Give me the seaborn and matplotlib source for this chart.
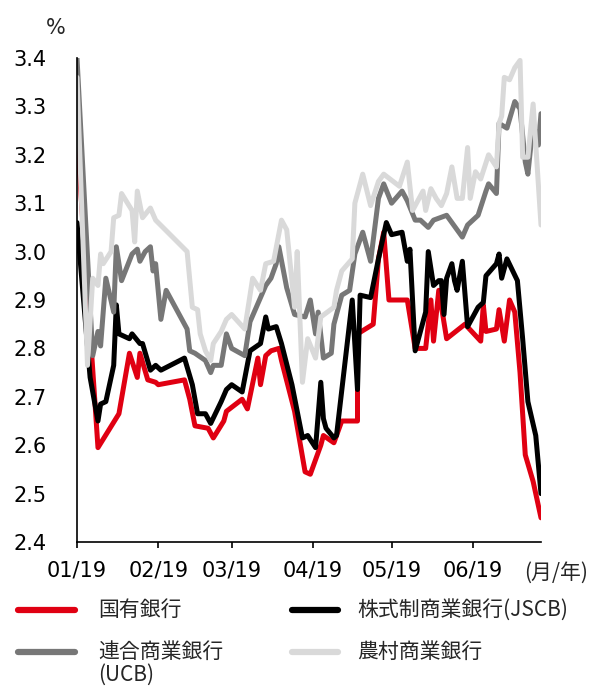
import pandas as pd
import numpy as np
import matplotlib.pyplot as plt
import matplotlib.dates as mdates
from matplotlib.lines import Line2D
import seaborn as sns

# series: (month-day, %), year 2019
red_dates = ["01-01","01-09","01-17","01-21","01-24","01-25","01-28","01-31",
             "02-01","02-11","02-13","02-15","02-20","02-22","02-26","02-27",
             "03-05","03-07","03-11","03-12","03-14","03-16","03-19","03-20","03-25","03-29","03-31",
             "04-03","04-04","04-05","04-09","04-12","04-18","04-18","04-24","04-26","04-28","04-30",
             "05-07","05-10","05-14","05-16","05-17","05-19","05-22","05-29",
             "06-04","06-05","06-06","06-10","06-11","06-13","06-15","06-17","06-19","06-21","06-24","06-27"]
red_vals = [3.24,2.595,2.665,2.79,2.74,2.79,2.735,2.73,
            2.725,2.735,2.695,2.64,2.635,2.615,2.65,2.67,
            2.695,2.675,2.78,2.725,2.785,2.795,2.80,2.775,2.67,2.545,2.54,
            2.585,2.60,2.62,2.605,2.65,2.65,2.83,2.85,2.985,3.04,2.90,
            2.90,2.80,2.80,2.90,2.815,2.92,2.82,2.85,
            2.815,2.89,2.835,2.84,2.88,2.815,2.90,2.875,2.75,2.58,2.525,2.45]

blk_dates = ["01-01","01-06","01-09","01-10","01-12","01-15","01-16","01-17","01-21","01-22","01-25","01-26","01-29","01-31",
             "02-02","02-11","02-14","02-16","02-19","02-21","02-25","02-27",
             "03-01","03-05","03-08","03-12","03-14","03-15","03-18","03-20","03-24","03-28","03-30",
             "04-02","04-04","04-05","04-06","04-09","04-10","04-16","04-18","04-19","04-23","04-26","04-29",
             "05-01","05-05","05-07","05-08","05-10","05-14","05-15","05-17","05-19","05-20","05-21","05-22","05-24","05-25","05-26","05-28","05-30",
             "06-03","06-05","06-06","06-10","06-11","06-12","06-14","06-18","06-20","06-22","06-25","06-27"]
blk_vals = [3.06,2.74,2.65,2.685,2.69,2.765,2.89,2.83,2.82,2.83,2.81,2.81,2.755,2.765,
            2.755,2.78,2.725,2.665,2.665,2.645,2.69,2.715,
            2.725,2.71,2.795,2.81,2.865,2.84,2.845,2.81,2.725,2.615,2.62,
            2.595,2.73,2.655,2.635,2.615,2.62,2.90,2.715,2.91,2.905,2.985,3.06,
            3.035,3.04,2.98,3.005,2.795,2.875,3.0,2.93,2.94,2.94,2.87,2.945,2.975,2.94,2.92,2.98,2.845,
            2.885,2.895,2.95,2.975,2.995,2.945,2.985,2.94,2.82,2.69,2.62,2.50]

gry_dates = ["01-01","01-07","01-09","01-10","01-12","01-15","01-16","01-18","01-22","01-24","01-25","01-27","01-29","01-30","01-31",
             "02-02","02-04","02-12","02-13","02-15","02-19","02-21","02-22","02-25","02-27",
             "03-01","03-06","03-08","03-14","03-16","03-18","03-19","03-22","03-25","03-29","03-31",
             "04-02","04-03","04-05","04-08","04-09","04-12","04-15","04-17","04-20","04-23","04-26","04-28",
             "05-01","05-05","05-07","05-10","05-12","05-15","05-17","05-22","05-28","05-30",
             "06-03","06-06","06-07","06-10","06-11","06-14","06-17","06-19","06-21","06-22","06-24","06-26","06-27"]
gry_vals = [3.40,2.785,2.835,2.805,2.945,2.875,3.01,2.94,2.995,3.005,2.98,3.0,3.01,2.96,2.975,
            2.86,2.92,2.84,2.795,2.79,2.775,2.75,2.765,2.765,2.83,
            2.80,2.785,2.855,2.93,2.945,2.975,3.01,2.925,2.87,2.865,2.90,
            2.83,2.875,2.78,2.79,2.85,2.91,2.92,2.995,3.04,2.98,3.11,3.14,
            3.10,3.125,3.105,3.065,3.065,3.05,3.065,3.075,3.03,3.055,
            3.075,3.125,3.14,3.12,3.265,3.255,3.31,3.295,3.185,3.16,3.265,3.22,3.285]

lgt_dates = ["01-01","01-05","01-07","01-09","01-10","01-11","01-14","01-15","01-17","01-18","01-22","01-23","01-24","01-26","01-29","01-31",
             "02-12","02-14","02-16","02-17","02-19","02-21","02-22","02-25","02-27",
             "03-01","03-06","03-09","03-12","03-14","03-17","03-20","03-22","03-25","03-26","03-28","03-30",
             "04-02","04-04","04-09","04-10","04-12","04-16","04-17","04-20","04-23","04-26","04-28",
             "05-04","05-07","05-09","05-13","05-14","05-16","05-18","05-20","05-22","05-24","05-26","05-28","05-30","05-31",
             "06-02","06-04","06-07","06-10","06-11","06-12","06-13","06-15","06-17","06-19","06-20","06-22","06-24","06-27"]
lgt_vals = [3.36,2.765,2.945,2.93,2.995,2.975,3.0,3.07,3.075,3.12,3.085,3.02,3.125,3.07,3.09,3.065,
            3.0,2.885,2.88,2.83,2.795,2.775,2.81,2.835,2.86,
            2.87,2.84,2.945,2.92,2.975,2.98,3.065,3.045,2.885,3.0,2.73,2.82,
            2.78,2.865,2.885,2.92,2.96,2.985,3.10,3.16,3.095,3.145,3.16,
            3.135,3.185,3.085,3.125,3.085,3.13,3.11,3.095,3.12,3.175,3.11,3.11,3.215,3.11,
            3.165,3.15,3.20,3.175,3.265,3.28,3.36,3.355,3.38,3.395,3.195,3.195,3.305,3.055]

banks = ["国有銀行", "株式制商業銀行(JSCB)", "連合商業銀行\n(UCB)", "農村商業銀行"]
colors = ["#e00012", "#000000", "#777777", "#d9d9d9"]
y_ticks = [2.4, 2.5, 2.6, 2.7, 2.8, 2.9, 3.0, 3.1, 3.2, 3.3, 3.4]

frames = []
for name, d, v in zip(banks, [red_dates, blk_dates, gry_dates, lgt_dates],
                      [red_vals, blk_vals, gry_vals, lgt_vals]):
    frames.append(pd.DataFrame({"date": pd.to_datetime(["2019-" + s for s in d]),
                                "rate": v, "bank": name}))
df = pd.concat(frames, ignore_index=True)

sns.set_theme(style="ticks")
plt.rcParams["font.family"] = ["DejaVu Sans"]
cjk = ["Noto Sans CJK JP", "DejaVu Sans"]

fig = plt.figure(figsize=(5.91, 6.87), dpi=100)
ax = fig.add_axes([77/591, 1 - 542/687, 464/591, 484/687])

sns.lineplot(data=df, x="date", y="rate", hue="bank", hue_order=banks,
             palette=dict(zip(banks, colors)), estimator=None, sort=False,
             linewidth=3.6, legend=False, ax=ax)

ax.set_xlim(pd.Timestamp("2019-01-01"), pd.Timestamp("2019-06-27"))
ax.set_ylim(2.4, 3.4)
ax.set_yticks(y_ticks)
ax.set_yticklabels([f"{t:.1f}" for t in y_ticks])
ax.xaxis.set_major_locator(mdates.MonthLocator())
ax.xaxis.set_major_formatter(mdates.DateFormatter("%m/%y"))
ax.set_xlabel("")
ax.set_ylabel("")
sns.despine(ax=ax)
for s in ["left", "bottom"]:
    ax.spines[s].set_color("black")
    ax.spines[s].set_linewidth(1.2)
ax.tick_params(axis="y", length=0, pad=22, labelsize=15, colors="black")
ax.tick_params(axis="x", length=4.5, width=1.2, pad=9, labelsize=15, colors="black")

fig.text(56/591, 1 - 28/687, "%", ha="center", va="center", fontsize=15)
fig.text(588/591, 1 - 573/687, "(月/年)", ha="right", va="center", fontsize=15, family=cjk)

# legend, two columns
rows = [1 - 610/687, 1 - 652/687]
spots = [(18, 75, 98, rows[0]), (292, 338, 357, rows[0]),
         (18, 75, 98, rows[1]), (292, 338, 357, rows[1])]
for (x0, x1, xt, y), i in zip(spots, range(4)):
    fig.add_artist(Line2D([x0/591, x1/591], [y, y], color=colors[i], lw=4.5,
                          solid_capstyle="round", transform=fig.transFigure))
    first, *rest = banks[i].split("\n")
    fig.text(xt/591, y, first, ha="left", va="center", fontsize=15, family=cjk)
    if rest:
        fig.text(xt/591, 1 - 675/687, rest[0], ha="left", va="center", fontsize=15, family=cjk)

fig.savefig("out.png", dpi=100)
